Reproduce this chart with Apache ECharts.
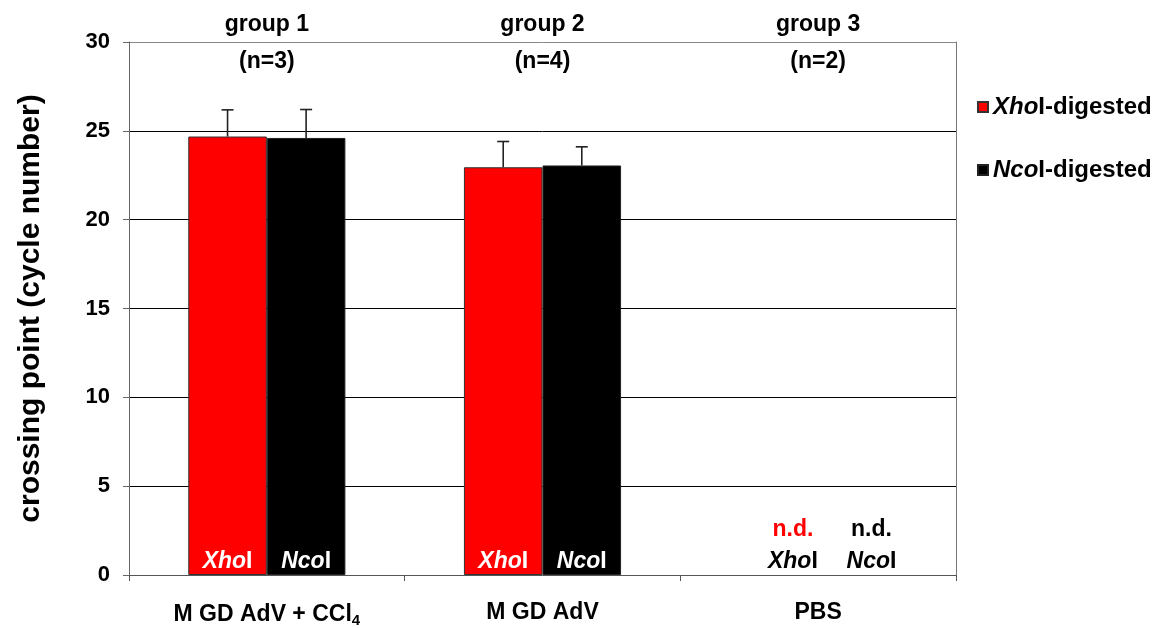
<!DOCTYPE html>
<html>
<head>
<meta charset="utf-8">
<script src="https://cdn.jsdelivr.net/npm/echarts@6/dist/echarts.min.js"></script>
<style>
html,body{margin:0;padding:0;background:#fff;}
#main{width:1162px;height:628px;}
</style>
</head>
<body>
<div id="main"></div>
<script>
// ---- data ----
const categories = ['M GD AdV + CCl4', 'M GD AdV', 'PBS'];
const groupNames = ['group 1', 'group 2', 'group 3'];
const groupN = ['(n=3)', '(n=4)', '(n=2)'];
const xhoMean = [24.68, 22.95, 0];
const xhoSD = [1.5, 1.45, 0];
const ncoMean = [24.6, 23.05, 0];
const ncoSD = [1.6, 1.05, 0];
const detected = [true, true, false];
const yTicks = [0, 5, 10, 15, 20, 25, 30];
const seriesNames = ['XhoI-digested', 'NcoI-digested'];

const FONT = '"Liberation Sans", Arial, sans-serif';
const BAR_FRAC = 0.285;
const FS = 23;

function barData(means, color, italicPart) {
  return means.map((v, i) => {
    if (detected[i]) {
      return {
        value: v,
        label: {
          show: true, position: 'insideBottom', distance: 2,
          formatter: '{i|' + italicPart + '}{n|I}',
          rich: {
            i: {fontStyle: 'italic', fontWeight: 'bold', fontSize: FS, color: '#fff', fontFamily: FONT},
            n: {fontWeight: 'bold', fontSize: FS, color: '#fff', fontFamily: FONT}
          }
        }
      };
    }
    return {
      value: v,
      itemStyle: {borderWidth: 0},
      label: {
        show: true, position: 'top', distance: 0, offset: [14, 0],
        formatter: '{nd|n.d.}\n{i|' + italicPart + '}{n|I}',
        rich: {
          nd: {fontWeight: 'bold', fontSize: FS, color: color, fontFamily: FONT, lineHeight: 38},
          i: {fontStyle: 'italic', fontWeight: 'bold', fontSize: FS, color: '#000', fontFamily: FONT, lineHeight: 26},
          n: {fontWeight: 'bold', fontSize: FS, color: '#000', fontFamily: FONT, lineHeight: 26}
        }
      }
    };
  });
}

function errData(means, sds, idx) {
  return means.map((m, i) => [i, m, sds[i], idx]);
}

function renderErr(params, api) {
  const c = api.value(0), m = api.value(1), sd = api.value(2), s = api.value(3);
  if (!(sd > 0)) return;
  const bw = api.size([1, 0])[0] * BAR_FRAC;
  const off = s === 0 ? -bw / 2 : bw / 2;
  const p0 = api.coord([c, m]);
  const p1 = api.coord([c, m + sd]);
  const x = p0[0] + off;
  const style = {stroke: '#222', lineWidth: 1.6};
  return {
    type: 'group',
    children: [
      {type: 'line', shape: {x1: x, y1: p0[1], x2: x, y2: p1[1]}, style: style},
      {type: 'line', shape: {x1: x - 6, y1: p1[1], x2: x + 6, y2: p1[1]}, style: style}
    ]
  };
}

const chart = echarts.init(document.getElementById('main'));
const option = {
  backgroundColor: '#fff',
  animation: false,
  textStyle: {fontFamily: FONT},
  grid: {left: 129, right: 206, top: 42, bottom: 51},
  legend: {
    data: seriesNames,
    orient: 'vertical',
    left: 972, top: 90,
    itemWidth: 10, itemHeight: 10, itemGap: 39,
    icon: 'rect',
    formatter: function (name) {
      const it = name.slice(0, 3);
      return '{i|' + it + '}{n|' + name.slice(3) + '}';
    },
    textStyle: {
      fontSize: 24, color: '#000',
      rich: {
        i: {fontStyle: 'italic', fontWeight: 'bold', fontSize: 24, color: '#000', fontFamily: FONT},
        n: {fontWeight: 'bold', fontSize: 24, color: '#000', fontFamily: FONT}
      }
    }
  },
  xAxis: [
    {
      type: 'category', data: categories, position: 'bottom',
      axisLine: {lineStyle: {color: '#555', width: 1}},
      axisTick: {show: true, length: 6, lineStyle: {color: '#555'}},
      axisLabel: {
        interval: 0,
        margin: 26, color: '#000', fontSize: FS, fontWeight: 'bold', fontFamily: FONT,
        formatter: function (v) {
          if (v.indexOf('CCl4') >= 0) return '{b|' + v.replace('CCl4', 'CCl') + '}{s|4}';
          return '{b|' + v + '}';
        },
        rich: {
          b: {fontSize: FS, fontWeight: 'bold', color: '#000', fontFamily: FONT},
          s: {fontSize: 15, fontWeight: 'bold', color: '#000', fontFamily: FONT, verticalAlign: 'bottom', padding: [12, 0, 0, 0]}
        }
      }
    },
    {
      type: 'category', data: groupNames, position: 'top',
      axisLine: {show: false}, axisTick: {show: false},
      axisLabel: {interval: 0, margin: 6, color: '#000', fontSize: FS, fontWeight: 'bold', fontFamily: FONT}
    },
    {
      type: 'category', data: groupN, position: 'top',
      axisLine: {show: false}, axisTick: {show: false},
      axisLabel: {interval: 0, inside: true, margin: 8, color: '#000', fontSize: FS, fontWeight: 'bold', fontFamily: FONT}
    }
  ],
  yAxis: [
    {
      type: 'value', min: 0, max: 30, interval: 5,
      name: 'crossing point (cycle number)',
      nameLocation: 'middle', nameRotate: 90, nameGap: 83,
      nameTextStyle: {fontSize: 30, fontWeight: 'bold', color: '#000', fontFamily: FONT},
      axisLine: {show: true, lineStyle: {color: '#666'}},
      axisTick: {show: true, length: 6, lineStyle: {color: '#666'}},
      axisLabel: {
        margin: 19, color: '#000', fontSize: 22, fontWeight: 'bold', fontFamily: FONT,
        formatter: function (v) { return yTicks.indexOf(v) >= 0 ? String(v) : ''; }
      },
      splitLine: {show: true, lineStyle: {color: ['#777', '#000', '#000', '#000', '#000', '#000', '#888'], width: 1}}
    },
    {
      type: 'value', min: 0, max: 30, interval: 5, position: 'right',
      axisLine: {show: true, lineStyle: {color: '#777'}},
      axisTick: {show: false}, axisLabel: {show: false}, splitLine: {show: false}
    }
  ],
  series: [
    {
      name: seriesNames[0], type: 'bar', xAxisIndex: 0, yAxisIndex: 0,
      barWidth: (BAR_FRAC * 100) + '%', barGap: '0%',
      itemStyle: {color: '#ff0000', borderColor: '#333', borderWidth: 1},
      data: barData(xhoMean, '#ff0000', 'Xho')
    },
    {
      name: seriesNames[1], type: 'bar', xAxisIndex: 0, yAxisIndex: 0,
      barWidth: (BAR_FRAC * 100) + '%', barGap: '0%',
      itemStyle: {color: '#000000', borderColor: '#222', borderWidth: 1},
      data: barData(ncoMean, '#000', 'Nco')
    },
    {
      type: 'custom', xAxisIndex: 0, yAxisIndex: 0, z: 5,
      renderItem: renderErr,
      encode: {x: 0, y: 1},
      data: errData(xhoMean, xhoSD, 0).concat(errData(ncoMean, ncoSD, 1))
    }
  ]
};
chart.setOption(option);
</script>
</body>
</html>
